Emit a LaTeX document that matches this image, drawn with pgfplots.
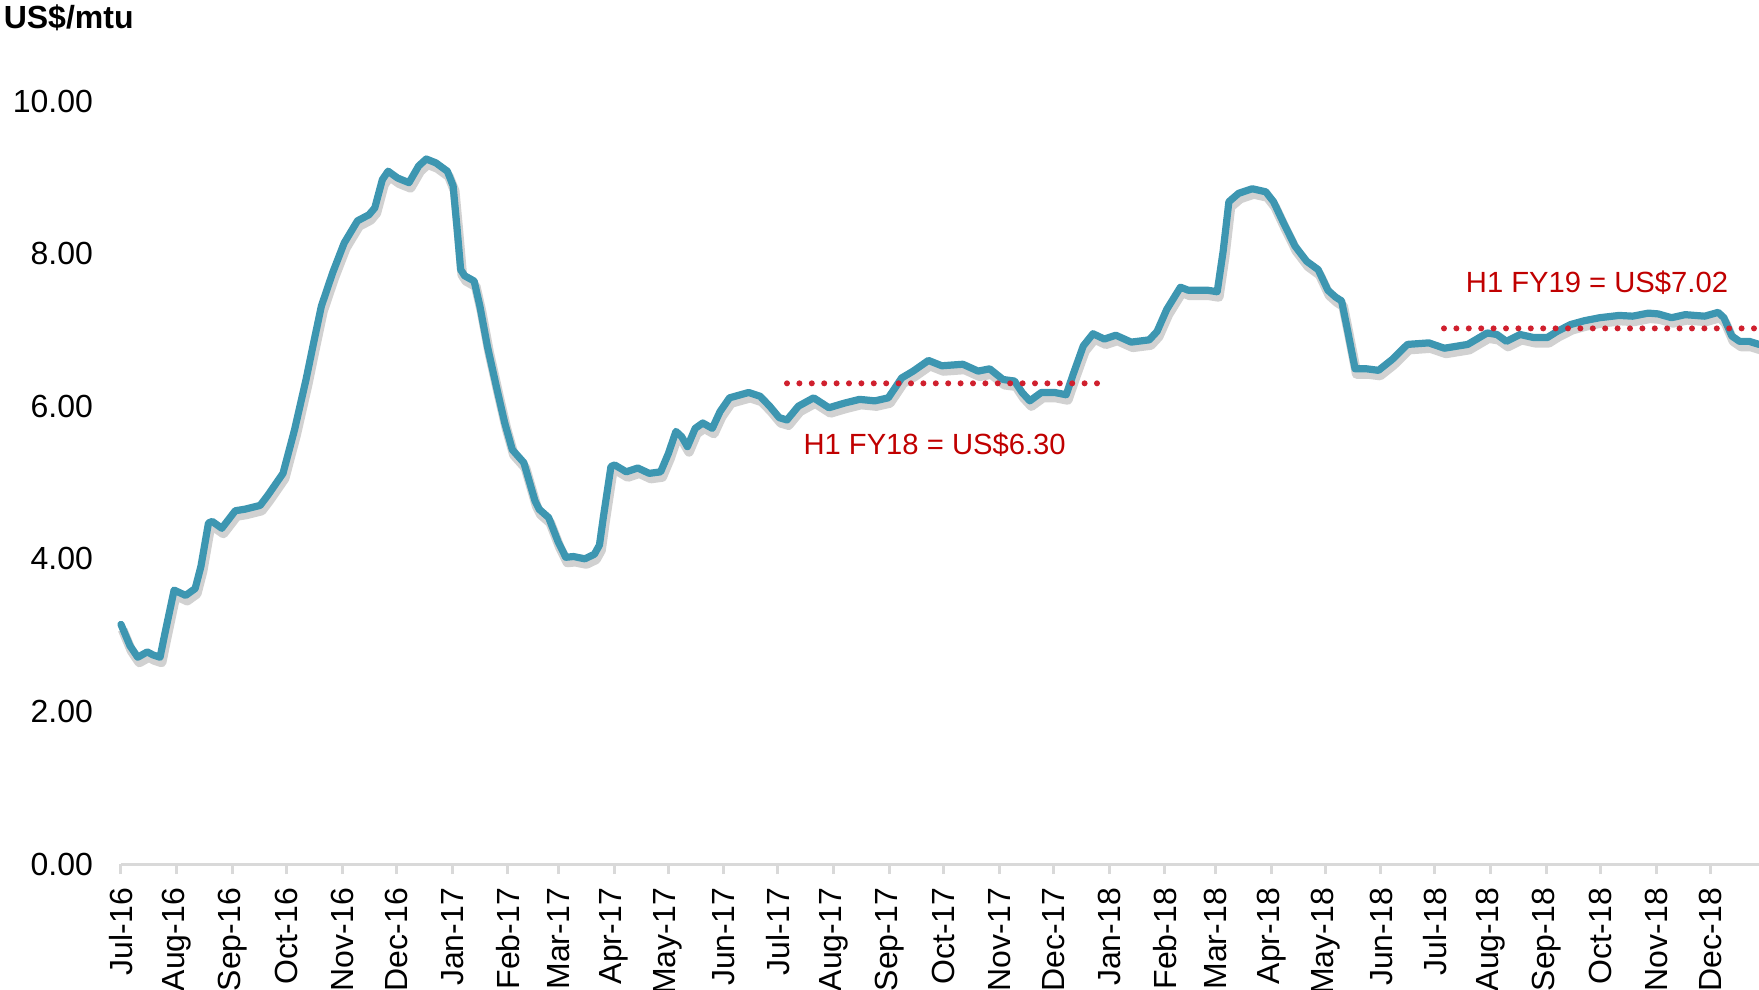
\documentclass[border=0pt]{standalone}
\usepackage{fontspec}
\setmainfont{Liberation Sans}
\usepackage{pgfplots}
\pgfplotsset{compat=1.18}
\definecolor{teal}{HTML}{3D96B1}
\definecolor{dotred}{HTML}{D0202E}
\definecolor{txtred}{HTML}{C00000}
\definecolor{axgray}{HTML}{D9D9D9}

% day counted from 1 Jul 2016, price in US$/mtu
\pgfplotstableread{
day value
0 3.14
5 2.86
9.3 2.71
14.6 2.78
17.8 2.74
21.7 2.71
24.2 3.00
29.5 3.59
35.9 3.52
41.2 3.61
44.4 3.90
48.6 4.47
50.7 4.49
56 4.40
63.5 4.63
68.8 4.65
77.3 4.70
81.5 4.83
90 5.12
96.4 5.69
102.8 6.35
107 6.83
111.3 7.31
117.6 7.75
124 8.14
131.4 8.43
137.8 8.51
141 8.60
145.2 8.97
148.4 9.08
153.7 8.99
160 8.93
165.4 9.15
169.6 9.24
174.9 9.19
181.3 9.08
184.5 8.89
186.6 8.36
188.7 7.79
190.9 7.71
196.2 7.64
199.4 7.31
203.6 6.78
208.9 6.22
213.2 5.78
217.4 5.43
223.8 5.26
230 4.76
232.3 4.65
237.6 4.54
242.9 4.22
247.1 4.02
251.4 4.03
257.7 4.00
263 4.06
265.8 4.18
268 4.55
272.2 5.21
274.3 5.23
280.7 5.14
287.1 5.19
293.5 5.12
299.8 5.14
304.1 5.38
308.3 5.67
311.5 5.60
314.7 5.47
319 5.71
323.2 5.78
328.5 5.71
332.8 5.93
338.1 6.11
348.7 6.18
355.1 6.13
360.4 6.00
365.7 5.85
370 5.82
376.3 6.00
384.8 6.11
393.3 5.98
401.8 6.04
410.3 6.09
418.8 6.07
426.3 6.11
433.7 6.37
440.1 6.46
448.6 6.60
456 6.53
467.7 6.55
476.2 6.46
482.6 6.49
490 6.35
496.4 6.33
500.6 6.18
504.9 6.07
511.3 6.18
518.7 6.18
525.1 6.15
529.3 6.44
534.6 6.79
540 6.95
546.3 6.88
552.7 6.93
561.2 6.84
571.3 6.87
575.6 6.98
581 7.27
588.6 7.56
592.9 7.52
603.7 7.52
609 7.50
612.3 8.03
615.5 8.68
620.9 8.79
628.5 8.85
636 8.81
640.3 8.68
645.7 8.41
652.2 8.10
658.7 7.90
665.1 7.79
670.5 7.52
674.8 7.43
678.1 7.38
681.3 7.01
685.6 6.49
692.1 6.49
698.6 6.47
706.1 6.61
714.7 6.81
726.6 6.83
735.2 6.76
748.2 6.81
759 6.96
764.4 6.94
769.7 6.85
777.3 6.94
784.8 6.90
792.4 6.90
797.8 6.98
805.3 7.07
812.9 7.12
821.5 7.16
832.3 7.19
839.8 7.18
848.5 7.22
853.9 7.21
861.4 7.16
869 7.20
879.8 7.18
887.3 7.23
890.5 7.16
894.9 6.92
899.2 6.85
904.6 6.85
910 6.81
}\pricedata

\begin{document}
\begin{tikzpicture}
\path[use as bounding box] (-30.25pt,-31.25pt) rectangle (409.5pt,216pt);
\begin{axis}[
    at={(0,0)}, anchor=south west,
    scale only axis,
    width=409.5pt, height=190.75pt,
    xmin=0, xmax=910,
    ymin=0, ymax=10,
    axis x line*=bottom,
    axis y line*=left,
    x axis line style={draw=axgray, line width=0.75pt},
    y axis line style={draw=none},
    xtick={0,31,62,92,123,153,184,215,243,274,304,335,365,396,427,457,488,518,549,580,608,639,669,700,730,761,792,822,853,883},
    xticklabels={Jul-16,Aug-16,Sep-16,Oct-16,Nov-16,Dec-16,Jan-17,Feb-17,Mar-17,Apr-17,May-17,Jun-17,Jul-17,Aug-17,Sep-17,Oct-17,Nov-17,Dec-17,Jan-18,Feb-18,Mar-18,Apr-18,May-18,Jun-18,Jul-18,Aug-18,Sep-18,Oct-18,Nov-18,Dec-18},
    ytick={0,2,4,6,8,10},
    xtick style={draw=axgray, line width=0.75pt},
    ytick style={draw=none},
    tick align=outside,
    major tick length=2.5pt,
    xticklabel style={rotate=90, anchor=east, font=\fontsize{8}{9}\selectfont},
    yticklabel style={anchor=east, xshift=-1pt, font=\fontsize{8}{9}\selectfont},
    yticklabel={\pgfmathprintnumber[fixed, fixed zerofill, precision=2]{\tick}},
    /pgf/number format/assume math mode=true,
    clip=false,
]
\addplot[black, opacity=0.18, line width=2.4pt, line join=round, yshift=-1.3pt, xshift=0.4pt] table[x=day, y=value] {\pricedata};
\addplot[teal, line width=1.8pt, line join=round, line cap=round] table[x=day, y=value] {\pricedata};
\addplot[dotred, line width=1.5pt, line cap=round, dash pattern=on 0pt off 3.1pt] coordinates {(370,6.30) (545,6.30)};
\addplot[dotred, line width=1.5pt, line cap=round, dash pattern=on 0pt off 3.1pt] coordinates {(735,7.02) (910,7.02)};
\node[txtred, font=\fontsize{7.3}{8}\selectfont] at (axis cs:452,5.49) {H1 FY18 = US\$6.30};
\node[txtred, font=\fontsize{7.3}{8}\selectfont] at (axis cs:820,7.62) {H1 FY19 = US\$7.02};
\end{axis}
\node[anchor=west, font=\bfseries\fontsize{8}{9}\selectfont, inner sep=0pt] at (-29.5pt,211.5pt) {US\$/mtu};
\end{tikzpicture}
\end{document}
